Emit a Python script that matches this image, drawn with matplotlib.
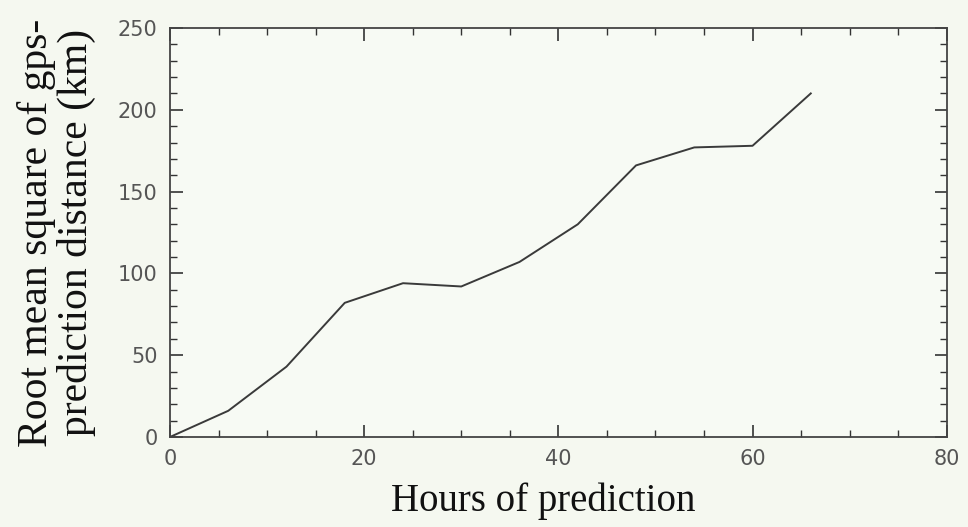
import numpy as np
import matplotlib.pyplot as plt
from matplotlib.ticker import MultipleLocator

# forecast lead time (h) and RMS distance (km)
hours = [0, 6, 12, 18, 24, 30, 36, 42, 48, 54, 60, 66]
rms_km = [0, 16, 43, 82, 94, 92, 107, 130, 166, 177, 178, 210]

bg = '#f5f8f0'
fig = plt.figure(figsize=(9.68, 5.27), dpi=100, facecolor=bg)
ax = fig.add_axes([0.1756, 0.1708, 0.8024, 0.7761], facecolor='#f7faf4')

ax.plot(hours, rms_km, color='#3a3a3a', lw=1.4)

ax.set_xlim(0, 80)
ax.set_ylim(0, 250)
ax.xaxis.set_major_locator(MultipleLocator(20))
ax.xaxis.set_minor_locator(MultipleLocator(5))
ax.yaxis.set_major_locator(MultipleLocator(50))
ax.yaxis.set_minor_locator(MultipleLocator(10))
ax.tick_params(which='both', direction='in', top=True, right=True,
               color='#333333', labelcolor='#555555')
ax.tick_params(which='major', length=9, width=1.2, labelsize=15, pad=9)
ax.tick_params(which='minor', length=5, width=1.0)
for s in ax.spines.values():
    s.set_color('#444444')
    s.set_linewidth(1.3)

ax.set_xlabel('Hours of prediction', family='Liberation Serif', fontsize=28,
              color='#111111')
ax.xaxis.set_label_coords(0.48, -0.11)
ax.set_ylabel('Root mean square of gps-\nprediction distance (km)',
              family='Liberation Serif', fontsize=30, color='#111111',
              linespacing=1.0, labelpad=16)

fig.savefig('out.png', dpi=100, facecolor=bg)
